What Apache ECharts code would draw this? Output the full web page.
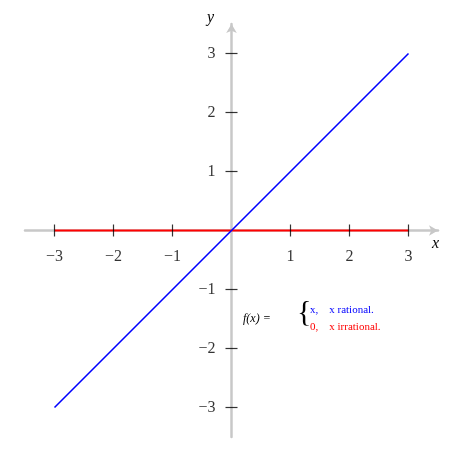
<!DOCTYPE html>
<html><head><meta charset="utf-8">
<script src="https://cdn.jsdelivr.net/npm/echarts@6/dist/echarts.min.js"></script>
<style>html,body{margin:0;background:#fff}#c{width:463px;height:463px}</style>
</head><body><div id="c"></div>
<script>
var ticks = [-3, -2, -1, 1, 2, 3];
var identityLine = [[-3, -3], [3, 3]];
var zeroLine = [[-3, 0], [3, 0]];
var serif = 'Liberation Serif';
function lab(v) { return v < 0 ? '\u2212' + (-v) : String(v); }

var chart = echarts.init(document.getElementById('c'));
var axisCommon = {
  type: 'value', min: -3.5, max: 3.5, interval: 1,
  splitLine: { show: false }, axisTick: { show: false },
  axisLine: { onZero: true, symbol: ['none', 'arrow'], symbolSize: [8, 9], lineStyle: { color: '#c8c8c8', width: 2.5 } },
  axisLabel: { show: false }
};
chart.setOption({
  animation: false,
  grid: { left: 25, right: 25, top: 24, bottom: 26 },
  xAxis: axisCommon,
  yAxis: axisCommon,
  series: [
    { type: 'line', data: zeroLine, symbol: 'none', lineStyle: { color: '#ff0000', width: 2 }, z: 3 },
    { type: 'line', data: identityLine, symbol: 'none', lineStyle: { color: '#0000ff', width: 1.6 }, z: 4 },
    { type: 'scatter', data: ticks.map(function (t) { return [t, 0]; }), symbol: 'rect', symbolSize: [1.2, 12], itemStyle: { color: '#000' },
      label: { show: true, position: 'bottom', distance: 12, formatter: function (p) { return lab(p.value[0]); }, fontFamily: serif, fontSize: 16, color: '#000' }, z: 5 },
    { type: 'scatter', data: ticks.map(function (t) { return [0, t]; }), symbol: 'rect', symbolSize: [12, 1.2], itemStyle: { color: '#000' },
      label: { show: true, position: 'left', distance: 10, formatter: function (p) { return lab(p.value[1]); }, fontFamily: serif, fontSize: 16, color: '#000' }, z: 5 }
  ],
  graphic: [
    { type: 'text', left: 207, top: 10, style: { text: 'y', font: 'italic 16px ' + serif, fill: '#000' } },
    { type: 'text', left: 432, top: 236, style: { text: 'x', font: 'italic 16px ' + serif, fill: '#000' } },
    { type: 'text', left: 243, top: 313, style: { text: 'f(x) =', font: 'italic 12px ' + serif, fill: '#000' } },
    { type: 'text', left: 297, top: 298, style: { text: '{', font: '30px ' + serif, fill: '#000' } },
    { type: 'text', left: 310, top: 305, style: { text: 'x,    x rational.', font: '11px ' + serif, fill: '#0000ff' } },
    { type: 'text', left: 310, top: 322, style: { text: '0,    x irrational.', font: '11px ' + serif, fill: '#ff0000' } }
  ]
});
</script></body></html>
